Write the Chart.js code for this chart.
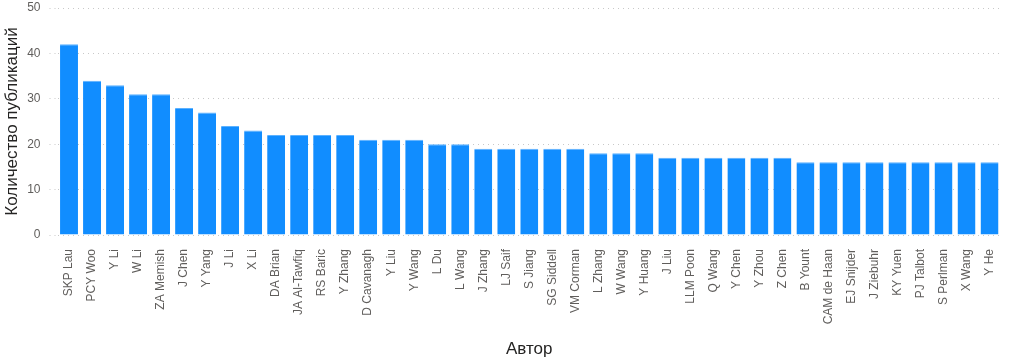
<!DOCTYPE html>
<html>
<head>
<meta charset="utf-8">
<script src="https://cdn.jsdelivr.net/npm/chart.js@4"></script>
<style>
html,body{margin:0;padding:0;background:#fff;}
#wrap{width:1010px;height:362px;position:relative;}
</style>
</head>
<body>
<div id="wrap"><canvas id="c" width="1010" height="362"></canvas></div>
<script>
const authors = ["SKP Lau","PCY Woo","Y Li","W Li","ZA Memish","J Chen","Y Yang","J Li","X Li","DA Brian","JA Al-Tawfiq","RS Baric","Y Zhang","D Cavanagh","Y Liu","Y Wang","L Du","L Wang","J Zhang","LJ Saif","S Jiang","SG Siddell","VM Corman","L Zhang","W Wang","Y Huang","J Liu","LLM Poon","Q Wang","Y Chen","Y Zhou","Z Chen","B Yount","CAM de Haan","EJ Snijder","J Ziebuhr","KY Yuen","PJ Talbot","S Perlman","X Wang","Y He"];
const publications = [42,34,33,31,31,28,27,24,23,22,22,22,22,21,21,21,20,20,19,19,19,19,19,18,18,18,17,17,17,17,17,17,16,16,16,16,16,16,16,16,16];
const yTicks = [0,10,20,30,40,50];
const yTitle = "Количество публикаций";
const xTitle = "Автор";

const tickFont = {family: "'Liberation Sans', Arial, sans-serif", size: 12};
const titleFont = {family: "'Liberation Sans', Arial, sans-serif", size: 17};

new Chart(document.getElementById('c'), {
  type: 'bar',
  data: {
    labels: authors,
    datasets: [{
      data: publications,
      backgroundColor: '#118DFF',
      borderColor: '#5BB1FF',
      borderWidth: {top: 1, left: 0, right: 0, bottom: 0},
      barPercentage: 0.78,
      categoryPercentage: 1.0
    }]
  },
  options: {
    responsive: false,
    animation: false,
    layout: {padding: {top: 0, right: 6, left: 0, bottom: 0}},
    plugins: {legend: {display: false}, tooltip: {enabled: false}},
    scales: {
      x: {
        grid: {display: false},
        border: {display: false},
        ticks: {
          color: '#605E5C', font: tickFont, autoSkip: false,
          minRotation: 90, maxRotation: 90, padding: 6
        },
        title: {display: true, text: xTitle, color: '#252423', font: titleFont, padding: {top: 0, bottom: 2}},
        afterFit: (s) => { s.height = 127; }
      },
      y: {
        min: 0, max: 50,
        afterBuildTicks: (s) => { s.ticks = yTicks.map(v => ({value: v})); },
        grid: {
          color: '#C8C8C8', drawTicks: true, tickLength: 8,
          tickColor: '#C8C8C8', tickBorderDash: [1, 4]
        },
        border: {display: false, dash: [1, 4]},
        ticks: {color: '#605E5C', font: tickFont, padding: 9},
        title: {display: true, text: yTitle, color: '#252423', font: titleFont, padding: {top: 2, bottom: 0}},
        afterFit: (s) => { s.width = 57.5; s.paddingTop = 8; s.paddingBottom = 0; }
      }
    }
  }
});
</script>
</body>
</html>
